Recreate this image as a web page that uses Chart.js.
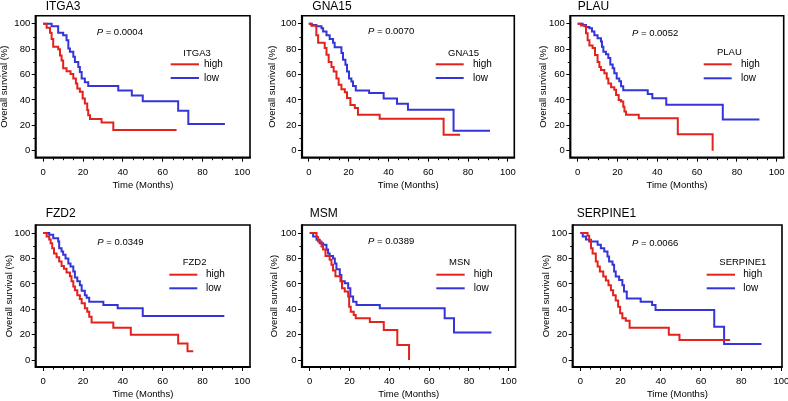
<!DOCTYPE html>
<html><head><meta charset="utf-8">
<script src="https://cdn.jsdelivr.net/npm/chart.js@4.4.1/dist/chart.umd.min.js"></script>
<style>
html,body{margin:0;padding:0;background:#fff;width:788px;height:401px;overflow:hidden;}
canvas{position:absolute;left:0;top:0;}
</style></head><body>
<canvas id="c0" width="788" height="401"></canvas>
<canvas id="c1" width="788" height="401"></canvas>
<canvas id="c2" width="788" height="401"></canvas>
<canvas id="c3" width="788" height="401"></canvas>
<canvas id="c4" width="788" height="401"></canvas>
<canvas id="c5" width="788" height="401"></canvas>
<script>
// ---------- DATA ----------
const geneNames = ['ITGA3','GNA15','PLAU','FZD2','MSM','SERPINE1'];
const legendTitles = ['ITGA3','GNA15','PLAU','FZD2','MSN','SERPINE1'];
const pValues = ['0.0004','0.0070','0.0052','0.0349','0.0389','0.0066'];
const groupLabels = ['high','low'];
const xTickValues = [0,20,40,60,80,100];
const yTickValues = [0,20,40,60,80,100];
const xAxisTitle = 'Time (Months)';
const yAxisTitle = 'Overall survival (%)';

const itga3HighTime = [0,1.7,3.4,4.2,5,7.5,8.4,9.2,10,11.7,13.7,15.1,16.4,17.1,18.4,19.8,20.9,22.1,22.6,23.5,29.3,35.2,67];
const itga3HighSurv = [100,97,93,88,82,80,75,71,65,62.7,60.4,57,53,49,46.5,41.2,37.3,32,28,25,22.3,16.3,16.3];
const itga3LowTime  = [0,4.2,7.5,10,11.7,12.6,13.4,15.1,15.9,17.6,18.4,19.3,20.9,22.6,37.7,44.5,50,67.8,72.9,91.3];
const itga3LowSurv  = [100,98,93,91,87,80.6,78,74,70,66,62,57,54,51,47.5,43.5,39,31.5,21,21];

const gna15HighTime = [0,1.3,3.8,4.7,8,8.9,10,11.4,12.5,13.9,15,16.4,18.1,19.2,20.9,23.1,24.7,35.6,67.7,76];
const gna15HighSurv = [100,98.5,91,85,81,75.6,70,66,62.5,57,52,48.5,46,41.5,36,33.6,28.3,25.2,12.6,12.6];
const gna15LowTime  = [0,1.5,3.8,6.4,7.2,8.9,10.5,12.2,13,16.4,17.2,18.4,19.2,20.2,21.4,22.2,23.6,30.3,37.6,44.3,49.8,72.7,91];
const gna15LowSurv  = [100,99,98,96.6,94,91,88,85,81.6,77,71.7,67.7,62.5,57,54.6,51,47.5,45.4,41.2,37,32.3,15.7,15.7];

const plauHighTime = [0,1.7,3.4,4.2,5,5.9,7.5,8.7,10,10.9,11.7,13.4,14.6,15.4,16.8,18.4,19.3,20.6,21.8,22.9,23.5,24.3,30.7,50.3,67.8];
const plauHighSurv = [100,98.7,98,92.6,87,83,81,75.5,70,66,63.7,61,57,53,50,48,44,40,38.7,34.7,31,28.4,25.5,12.9,0];
const plauLowTime  = [0,2.5,4.2,5.9,7.2,8.4,10,11.7,12.2,12.9,14.2,15.4,16.4,17.6,18.4,19.6,20.9,21.8,22.9,35.2,37.5,44.5,72.9,91.3];
const plauLowSurv  = [100,99,97.4,96.6,94,91,88.7,86,82,78,76,73,68,65,61,57,54.7,50.8,47.6,44.7,41.3,36.3,24.7,24.7];

const fzd2HighTime = [0,1.7,3,3.7,4.5,5.4,6.7,8,9.2,10.4,11.7,13.4,14.2,15.1,15.9,17.1,18.4,19.3,20.9,22.1,23.1,24.3,35.2,44,67.8,72.5,75.4];
const fzd2HighSurv = [100,97.4,95,92,88,84,81,77.6,74,72,69,66,62,58,55,51,48,44.7,40.8,38,34,29.5,25.5,20,13,7,7];
const fzd2LowTime  = [0,3,5,7.5,8,9.2,10,11.2,12.6,13.7,15.1,15.9,17.1,18.4,19.3,20.9,21.8,23.1,30.2,37.4,50,91];
const fzd2LowSurv  = [100,98.7,96,93.4,88,85.5,83,80,76,73.7,69.7,65,62,59,54.5,51,49,46,43.4,40.8,34.7,34.7];

const msmHighTime = [0,3.4,4.2,5.9,6.7,7.9,10,10.9,11.7,12.9,15.4,16.2,17.6,19.3,19.8,20.6,22.1,23.1,30.2,37.2,44,49.9];
const msmHighSurv = [100,97,93.4,89.5,87,82,79,75,70.5,66,62,56.6,54,50,42,38,35.5,33,30,23.7,11.8,0];
const msmLowTime  = [0,1.7,3.4,5,6.7,8.4,9.2,10,11.7,12.6,13.4,15.1,15.9,17.6,19.3,20.4,21.8,23.5,35.2,67.8,72.5,91.3];
const msmLowSurv  = [100,97.4,94.7,92,90.8,87,84,82,80,76,71.6,67,62,60.5,56.6,50,46,43.4,40.8,32.9,21.6,21.6];

const serpine1HighTime = [0,3.6,4.4,5.3,6.1,7.7,8.6,9.7,11.4,12.7,14,15.2,16.3,17.6,18.8,19.8,20.9,22.6,24.5,44,49.3,74.5];
const serpine1HighSurv = [100,98,94.7,88,84,77.6,73.7,69.7,65.8,62.6,59,55,51,47,42,36.8,32.9,31,25.5,20,15.8,15.8];
const serpine1LowTime  = [0,1.2,2.8,4.4,8.6,10.2,11.9,13.5,14.3,16,16.8,17.6,19.3,20.9,21.7,23.1,30,35.7,37.4,66.6,71.5,90.1];
const serpine1LowSurv  = [100,97.4,95,93.4,90.8,88,85.5,81.6,77.6,75,69.7,65.8,63,59,54,48.4,46,43.4,39.5,26.3,12.6,12.6];

const highTimes = [itga3HighTime,gna15HighTime,plauHighTime,fzd2HighTime,msmHighTime,serpine1HighTime];
const highSurvs = [itga3HighSurv,gna15HighSurv,plauHighSurv,fzd2HighSurv,msmHighSurv,serpine1HighSurv];
const lowTimes  = [itga3LowTime,gna15LowTime,plauLowTime,fzd2LowTime,msmLowTime,serpine1LowTime];
const lowSurvs  = [itga3LowSurv,gna15LowSurv,plauLowSurv,fzd2LowSurv,msmLowSurv,serpine1LowSurv];

// ---------- STYLE / LAYOUT ----------
const FONT = '"Liberation Sans", Arial, Helvetica, sans-serif';
const RED = '#e3221e', BLUE = '#3434d8';
const Y_MIN = -5.5, Y_MAX = 106.4;
const layouts = [
  {L:35.7,R:250,T:15.7,B:157.7,xmin:-3.8,xmax:103.9,yTitleX:4.75,xTitleY:185.7,title:[45.7,6.5],p:[96.7,32.3],
   leg:{tx:183.3,ty:53.3,x1:170.7,x2:199,hy:64.3,ly:78,lx:204}},
  {L:302,R:514.3,T:15.7,B:157.7,xmin:-3.4,xmax:103.2,yTitleX:272.2,xTitleY:185.7,title:[312.3,6.5],p:[368,31.7],
   leg:{tx:448,ty:53.3,x1:435.7,x2:463.7,hy:64.3,ly:78,lx:473}},
  {L:570.3,R:783.7,T:15.7,B:157.7,xmin:-3.7,xmax:103.5,yTitleX:543.5,xTitleY:185.7,title:[577.7,6.5],p:[632,33.3],
   leg:{tx:717,ty:52.7,x1:703.7,x2:731.7,hy:64.3,ly:78.3,lx:741}},
  {L:35.7,R:250,T:225,B:367,xmin:-3.8,xmax:103.9,yTitleX:9.2,xTitleY:394,title:[45.7,214],p:[97.3,242.3],
   leg:{tx:182.7,ty:262.7,x1:169.3,x2:197.3,hy:274.7,ly:288.3,lx:206}},
  {L:302,R:515.5,T:225,B:367,xmin:-3.9,xmax:103.4,yTitleX:274.2,xTitleY:394,title:[309.7,214],p:[368,241.7],
   leg:{tx:449,ty:262.7,x1:436.3,x2:464.7,hy:274.7,ly:288.3,lx:473.7}},
  {L:572.7,R:782,T:225,B:367,xmin:-3.8,xmax:100.3,yTitleX:546,xTitleY:394,title:[576.7,214],p:[632,243.3],
   leg:{tx:719.3,ty:262.7,x1:706.7,x2:735,hy:274.7,ly:288.3,lx:743.3}}
];

Chart.defaults.font.family = FONT;
Chart.defaults.color = '#000';

function toXY(ts, ss){ return ts.map((t,k)=>({x:t, y:ss[k]})); }

function panelPlugin(i){
  const g = layouts[i];
  return {
    id:'panel'+i,
    afterDatasetsDraw(chart){
      const ctx = chart.ctx, a = chart.chartArea;
      const xs = chart.scales.x, ys = chart.scales.y;
      ctx.save();
      ctx.strokeStyle = '#000';
      // minor ticks
      ctx.lineWidth = 1;
      ctx.beginPath();
      for (let v=5; v<100; v+=5){
        if (v%20===0) continue;
        const px = Math.round(xs.getPixelForValue(v))+0.5;
        ctx.moveTo(px, a.bottom); ctx.lineTo(px, a.bottom+2.5);
      }
      for (let v=10; v<100; v+=20){
        const py = Math.round(ys.getPixelForValue(v))+0.5;
        ctx.moveTo(a.left, py); ctx.lineTo(a.left-2.5, py);
      }
      ctx.stroke();
      // frame
      ctx.lineWidth = 1.6;
      ctx.beginPath();
      ctx.moveTo(a.left, a.top); ctx.lineTo(a.right, a.top); ctx.lineTo(a.right, a.bottom);
      ctx.stroke();
      ctx.lineWidth = 2.2;
      ctx.beginPath();
      ctx.moveTo(a.left, a.top-0.8); ctx.lineTo(a.left, a.bottom); ctx.lineTo(a.right+0.8, a.bottom);
      ctx.stroke();
      // panel title
      ctx.fillStyle = '#000';
      ctx.textBaseline = 'middle';
      ctx.textAlign = 'left';
      ctx.font = '12px ' + FONT;
      ctx.fillText(geneNames[i], g.title[0], g.title[1]);
      // p value
      ctx.font = 'italic 9.5px ' + FONT;
      ctx.fillText('P', g.p[0], g.p[1]);
      const w = ctx.measureText('P').width;
      ctx.font = '9.5px ' + FONT;
      ctx.fillText(' = ' + pValues[i], g.p[0] + w, g.p[1]);
      // legend
      const L = g.leg;
      ctx.font = '9.5px ' + FONT;
      ctx.fillText(legendTitles[i], L.tx, L.ty);
      ctx.lineWidth = 2;
      chart.data.datasets.forEach((ds, k)=>{
        const y = k===0 ? L.hy : L.ly;
        ctx.strokeStyle = ds.borderColor;
        ctx.beginPath(); ctx.moveTo(L.x1, y); ctx.lineTo(L.x2, y); ctx.stroke();
        ctx.font = '10px ' + FONT;
        ctx.fillText(ds.label, L.lx, y);
      });
      ctx.restore();
    }
  };
}

function makeChart(i){
  const g = layouts[i];
  const padLeft = g.yTitleX - 4.75;
  const YW = g.L - padLeft;
  const XH = g.xTitleY + 4.75 - g.B;
  const zeroPad = s => { s.paddingLeft = 0; s.paddingRight = 0; s.paddingTop = 0; s.paddingBottom = 0; };
  new Chart(document.getElementById('c'+i), {
    type:'line',
    data:{datasets:[
      {label:groupLabels[0], data:toXY(highTimes[i], highSurvs[i]), borderColor:RED, backgroundColor:RED,
       borderWidth:2, pointRadius:0, stepped:true, fill:false, tension:0},
      {label:groupLabels[1], data:toXY(lowTimes[i], lowSurvs[i]), borderColor:BLUE, backgroundColor:BLUE,
       borderWidth:2, pointRadius:0, stepped:true, fill:false, tension:0}
    ]},
    options:{
      responsive:false, animation:false, events:[],
      layout:{padding:{left:padLeft, right:788-g.R, top:g.T, bottom:401-g.B-XH}},
      plugins:{legend:{display:false}, title:{display:false}, tooltip:{enabled:false}},
      scales:{
        x:{type:'linear', min:g.xmin, max:g.xmax,
           afterBuildTicks:s=>{ s.ticks = xTickValues.map(v=>({value:v})); },
           afterFit:s=>{ s.height = XH; zeroPad(s); },
           grid:{drawOnChartArea:false, drawTicks:true, tickLength:4, tickColor:'#000', tickWidth:1},
           border:{display:false},
           ticks:{padding:5, color:'#000', font:{size:9.5}, maxRotation:0, minRotation:0, autoSkip:false},
           title:{display:true, text:xAxisTitle, color:'#000', font:{size:9.5, lineHeight:1}, padding:0}},
        y:{type:'linear', min:Y_MIN, max:Y_MAX,
           afterBuildTicks:s=>{ s.ticks = yTickValues.map(v=>({value:v})); },
           afterFit:s=>{ s.width = YW; zeroPad(s); },
           grid:{drawOnChartArea:false, drawTicks:true, tickLength:4, tickColor:'#000', tickWidth:1},
           border:{display:false},
           ticks:{padding:1.5, color:'#000', font:{size:9.5}, autoSkip:false},
           title:{display:true, text:yAxisTitle, color:'#000', font:{size:9.5, lineHeight:1}, padding:0}}
      }
    },
    plugins:[panelPlugin(i)]
  });
}
for (let i=0;i<6;i++) makeChart(i);
</script>
</body></html>
